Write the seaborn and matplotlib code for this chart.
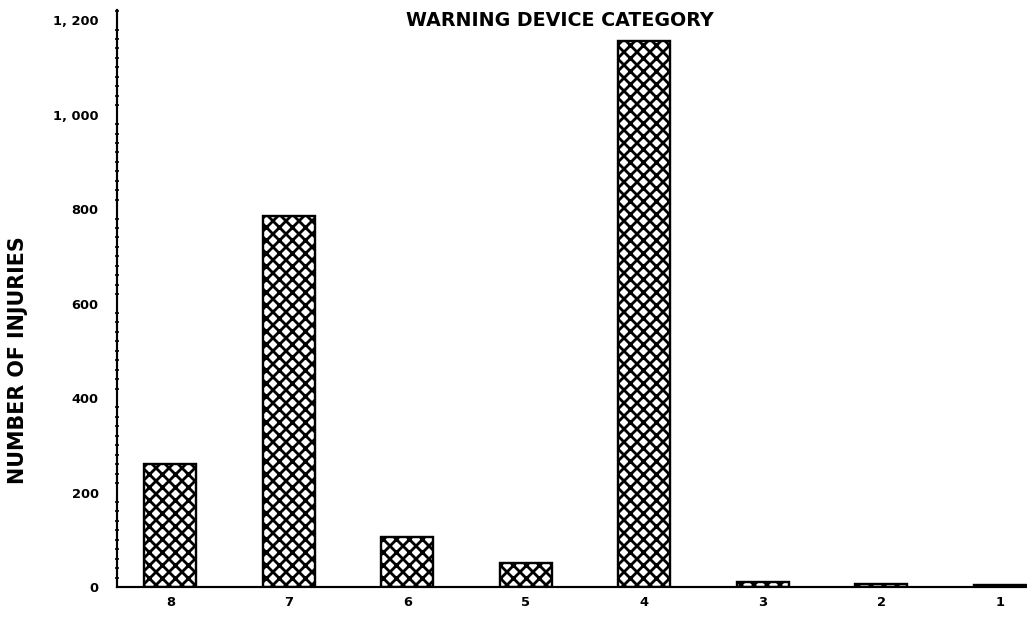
import numpy as np
import pandas as pd
import seaborn as sns
import matplotlib.pyplot as plt
from matplotlib.ticker import MultipleLocator, FuncFormatter

# data
categories = ['8', '7', '6', '5', '4', '3', '2', '1']
injuries = [260, 785, 105, 50, 1155, 10, 7, 5]

df = pd.DataFrame({'category': categories, 'injuries': injuries})

sns.set_style('white')
plt.rcParams['font.family'] = ['DejaVu Sans']
plt.rcParams['text.color'] = 'black'
plt.rcParams['hatch.linewidth'] = 2.6
plt.rcParams['hatch.color'] = 'black'

# dpi 78 gives a hatch cell close to the scanned crosshatch
DPI = 78
fig = plt.figure(figsize=(1027 / DPI, 622 / DPI), dpi=DPI)
ax = fig.add_axes([0.114, 0.0563, 0.886, 0.928])

_ = sns.barplot(data=df, x='category', y='injuries', order=categories,
                color='white', edgecolor='black', linewidth=2.2,
                width=0.44, hatch='xx', ax=ax)

ax.set_xlim(-0.45, 7.23)
ax.set_ylim(0, 1222)

# y axis: major every 200, minor every 20
ax.yaxis.set_major_locator(MultipleLocator(200))
ax.yaxis.set_minor_locator(MultipleLocator(20))
ax.yaxis.set_major_formatter(FuncFormatter(
    lambda v, p: f'{int(v):,}'.replace(',', ', ')))
ax.tick_params(axis='y', which='major', direction='out', length=9,
               width=1.8, labelsize=12, pad=8, labelcolor='black', color='black')
ax.tick_params(axis='y', which='minor', direction='inout', length=4,
               width=1.5, left=True, color='black')
ax.tick_params(axis='x', length=0, labelsize=12, pad=8, labelcolor='black')
for lab in ax.get_xticklabels() + ax.get_yticklabels():
    lab.set_fontweight('bold')

sns.despine(ax=ax, top=True, right=True)
ax.spines['left'].set_linewidth(2)
ax.spines['bottom'].set_linewidth(2)
ax.spines['left'].set_color('black')
ax.spines['bottom'].set_color('black')

_ = ax.set_xlabel('')
_ = ax.set_ylabel('')
fig.text(18.5 / 1027, 1 - 360 / 622, 'NUMBER OF INJURIES', rotation=90,
         ha='center', va='center', fontsize=19, fontweight='bold', color='black')
fig.text(560 / 1027, 1 - 20 / 622, 'WARNING DEVICE CATEGORY', ha='center',
         va='center', fontsize=17.5, fontweight='bold', color='black')

plt.savefig('out.png', dpi=DPI)
